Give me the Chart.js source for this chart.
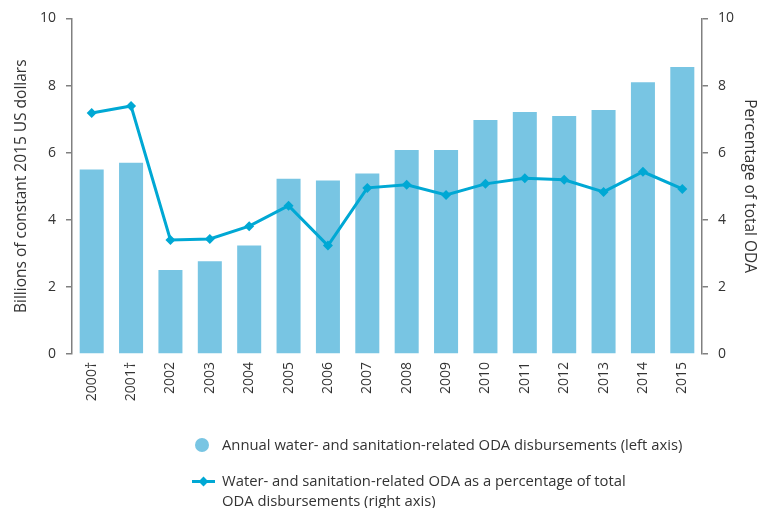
<!DOCTYPE html>
<html>
<head>
<meta charset="utf-8">
<script src="https://cdn.jsdelivr.net/npm/chart.js@4"></script>
<style>
  body { margin: 0; background: #fff; font-family: "Open Sans", sans-serif; color: #333; }
  #wrap { position: relative; width: 774px; height: 508px; }
  .legend-item { position: absolute; left: 192px; font-size: 14.8px; line-height: 19.5px; }
  .legend-item .txt { position: absolute; left: 30px; white-space: nowrap; }
  .dot { position: absolute; left: 3px; width: 14px; height: 14px; border-radius: 50%; background: #78c5e3; }
  .ln { position: absolute; left: 0; width: 23px; height: 3px; background: #00a8d4; }
  .dia { position: absolute; left: 8px; width: 7px; height: 7px; background: #00a8d4; transform: rotate(45deg); }
</style>
</head>
<body>
<div id="wrap">
  <canvas id="oda-chart" width="774" height="508"></canvas>
  <div class="legend-item" style="top:435px">
    <div class="dot" style="top:3px"></div>
    <div class="txt">Annual water- and sanitation-related ODA disbursements (left axis)</div>
  </div>
  <div class="legend-item" style="top:471px">
    <div class="ln" style="top:8.5px"></div>
    <div class="dia" style="top:6.5px"></div>
    <div class="txt">Water- and sanitation-related ODA as a percentage of total<br>ODA disbursements (right axis)</div>
  </div>
</div>
<script>
// Years, with the two footnoted ones marked
const years = ["2000\u2020", "2001\u2020", "2002", "2003", "2004", "2005", "2006", "2007",
  "2008", "2009", "2010", "2011", "2012", "2013", "2014", "2015"];

// Annual disbursements, billions of constant 2015 USD
const disbursements = [5.5, 5.7, 2.5, 2.76, 3.23, 5.22, 5.17, 5.38,
  6.08, 6.08, 6.97, 7.21, 7.09, 7.27, 8.1, 8.55];

// Share of total ODA, percent
const shareOfOda = [7.18, 7.39, 3.4, 3.43, 3.81, 4.42, 3.23, 4.95,
  5.04, 4.74, 5.07, 5.24, 5.19, 4.83, 5.43, 4.92];

const axisTicks = [0, 2, 4, 6, 8, 10];

const barColor = "#78c5e3";
const lineColor = "#00a8d4";
const axisColor = "#808080";
const textColor = "#333333";

const tickFont = { family: "'Open Sans', sans-serif", size: 14 };
const titleFont = { family: "'Open Sans', sans-serif", size: 15.5 };

const ctx = document.getElementById("oda-chart").getContext("2d");
const odaChart = new Chart(ctx, {
  data: {
    labels: years,
    datasets: [
      {
        type: "line",
        label: "Water- and sanitation-related ODA as a percentage of total ODA disbursements (right axis)",
        data: shareOfOda,
        yAxisID: "y1",
        borderColor: lineColor,
        backgroundColor: lineColor,
        borderWidth: 3,
        pointStyle: "rectRot",
        pointRadius: 5,
        pointBorderWidth: 0,
        tension: 0,
        order: 0,
      },
      {
        type: "bar",
        label: "Annual water- and sanitation-related ODA disbursements (left axis)",
        data: disbursements,
        yAxisID: "y",
        backgroundColor: barColor,
        categoryPercentage: 1,
        barPercentage: 0.61,
        order: 1,
      },
    ],
  },
  options: {
    responsive: false,
    animation: false,
    layout: { padding: { top: 17, bottom: 99, left: 0, right: 0 } },
    plugins: { legend: { display: false }, tooltip: { enabled: false } },
    scales: {
      x: {
        grid: { display: false, drawTicks: false },
        border: { display: false },
        ticks: {
          color: textColor,
          font: tickFont,
          minRotation: 90,
          maxRotation: 90,
          padding: 8,
        },
        afterFit: (s) => { s.height = 55; },
      },
      y: {
        position: "left",
        min: 0,
        max: 10,
        afterBuildTicks: (s) => { s.ticks = axisTicks.map((v) => ({ value: v })); },
        grid: { drawOnChartArea: false, tickLength: 6, color: axisColor, lineWidth: 1.5 },
        border: { color: axisColor, width: 1.5 },
        ticks: { color: textColor, font: tickFont, padding: 10 },
        title: {
          display: true,
          text: "Billions of constant 2015 US dollars",
          color: textColor,
          font: titleFont,
          padding: { top: 12, bottom: 0 },
        },
        afterFit: (s) => { s.width = 72; },
      },
      y1: {
        position: "right",
        min: 0,
        max: 10,
        afterBuildTicks: (s) => { s.ticks = axisTicks.map((v) => ({ value: v })); },
        grid: { drawOnChartArea: false, tickLength: 6, color: axisColor, lineWidth: 1.5 },
        border: { color: axisColor, width: 1.5 },
        ticks: { color: textColor, font: tickFont, padding: 10 },
        title: {
          display: true,
          text: "Percentage of total ODA",
          color: textColor,
          font: titleFont,
          padding: { top: 15, bottom: 0 },
        },
        afterFit: (s) => { s.width = 72; },
      },
    },
  },
});
</script>
</body>
</html>
